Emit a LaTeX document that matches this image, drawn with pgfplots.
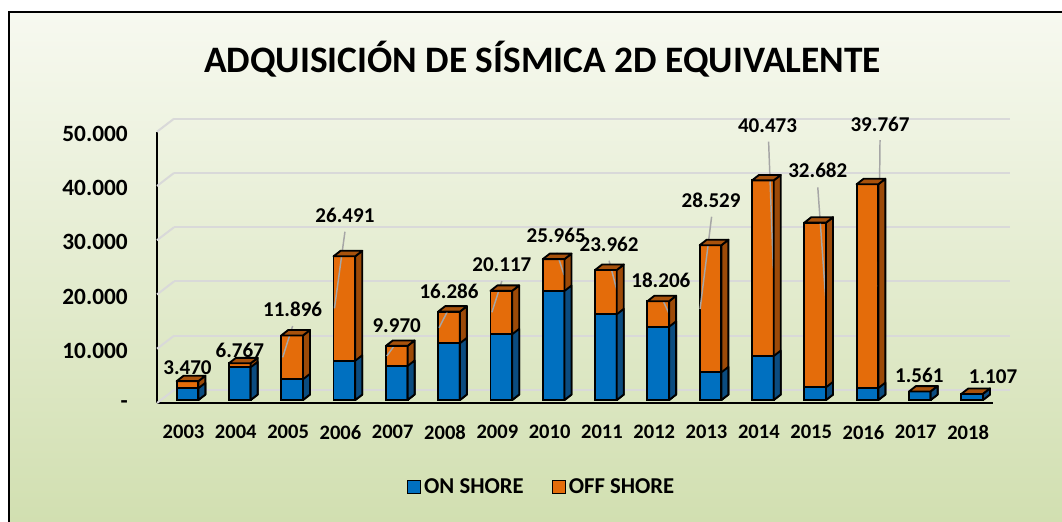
\documentclass[border=0pt]{standalone}
\usepackage{fontspec}
\setmainfont{Carlito}
\usepackage{pgfplots}
\usepackage{pgfplotstable}
\pgfplotsset{compat=1.18}

\definecolor{onfront}{HTML}{0070C0}
\definecolor{onside}{HTML}{0B4C80}
\definecolor{offfront}{HTML}{E46C0A}
\definecolor{offside}{HTML}{9C4A08}
\definecolor{offtop}{HTML}{A8520C}
\definecolor{bgtop}{HTML}{F7F9F0}
\definecolor{bgbot}{HTML}{D1DFB0}
\definecolor{gridc}{HTML}{D9D9D9}
\definecolor{leader}{HTML}{A6A6A6}

\pgfdeclareplotmark{empty}{}

% on / off shore in thousands (totals are the printed labels)
\pgfplotstableread{
idx on off
0 2.160 1.310
1 6.030 0.737
2 3.810 8.086
3 7.240 19.251
4 6.270 3.700
5 10.450 5.836
6 12.110 8.007
7 20.090 5.875
8 15.800 8.162
9 13.500 4.706
10 5.100 23.429
11 8.100 32.373
12 2.340 30.342
13 2.200 37.567
14 1.561 0
15 1.107 0
}\sismica

% pt per thousand (axis height 203.475pt for 50)
\def\yu{4.0695}
\def\hw{8.15}
\def\hwt{16.3}
\def\dx{5.25}
\def\dy{4.1}

\pgfplotsset{
  front/.style={ybar, bar width=16.3pt, bar shift=0pt, draw=black,
    line width=1.4pt, fill=#1, forget plot, yshift=2.25pt},
  offface/.style={only marks, mark=empty, scatter, forget plot, yshift=2.25pt,
    visualization depends on={\thisrow{on}+\thisrow{off} \as \hv},
    scatter/@pre marker code/.code={%
      \pgfmathsetmacro\H{\hv*\yu}%
      \filldraw[fill=offside, draw=black, line width=1.4pt, line join=round]
        (\hw pt,0pt) -- ++(\dx pt,\dy pt) -- ++(0pt,-\H pt) -- (\hw pt,-\H pt) -- cycle;
      \filldraw[fill=offtop, draw=black, line width=1.4pt, line join=round]
        (-\hw pt,0pt) -- (\hw pt,0pt) -- ++(\dx pt,\dy pt) -- ++(-\hwt pt,0pt) -- cycle;
    },
    scatter/@post marker code/.code={}},
  onface/.style={only marks, mark=empty, scatter, forget plot, yshift=2.25pt,
    visualization depends on={\thisrow{on} \as \hv},
    scatter/@pre marker code/.code={%
      \pgfmathsetmacro\H{\hv*\yu}%
      \filldraw[fill=onside, draw=black, line width=1.4pt, line join=round]
        (\hw pt,0pt) -- ++(\dx pt,\dy pt) -- ++(0pt,-\H pt) -- (\hw pt,-\H pt) -- cycle;
    },
    scatter/@post marker code/.code={}},
}
\tikzset{
  lbl/.style={font=\fontsize{15.8}{18}\selectfont\bfseries, inner sep=0pt},
  lead/.style={draw=leader, line width=1.1pt},
}

\begin{document}
\begin{tikzpicture}
\useasboundingbox (0,0) rectangle (796.5pt,-390.75pt);
\clip (0,0) rectangle (796.5pt,-390.75pt);
\fill[white] (0,0) rectangle (796.5pt,-390.75pt);
\shade[top color=bgtop, bottom color=bgbot] (6.75pt,-9pt) rectangle (800pt,-395pt);
\draw[black, line width=1.6pt] (6.75pt,-400pt) -- (6.75pt,-9pt) -- (800pt,-9pt);

\node[font=\fontsize{28}{34}\selectfont\bfseries, anchor=base] at (406.9pt,-54pt)
  {ADQUISICIÓN DE SÍSMICA 2D EQUIVALENTE};

\begin{axis}[
  at={(117.75pt,-302.25pt)}, anchor=south west,
  scale only axis, width=627pt, height=203.475pt,
  xmin=-0.583, xmax=15.40, ymin=0, ymax=50,
  clip=false,
  axis x line*=bottom, axis y line*=left,
  axis line style={line width=1.5pt},
  major tick length=0pt,
  xtick={0,...,15},
  xticklabels={2003,2004,2005,2006,2007,2008,2009,2010,2011,2012,2013,2014,2015,2016,2017,2018},
  xticklabel style={font=\fontsize{15.4}{18}\selectfont\bfseries, inner sep=0pt, anchor=north, yshift=-16.5pt, xshift=-3pt},
  ytick={0,10,20,30,40,50},
  yticklabels={-,10.000,20.000,30.000,40.000,50.000},
  yticklabel style={font=\fontsize{17.5}{20}\selectfont\bfseries, inner sep=0pt, anchor=east, xshift=-21.75pt, yshift=-1.5pt},
  ymajorgrids,
  grid style={draw=gridc, line width=1.5pt, xshift=12.75pt, yshift=9.75pt},
  legend style={draw=none, fill=none, legend columns=2,
    font=\fontsize{17}{20}\selectfont\bfseries,
    at={(0.4605,-0.31)}, anchor=center,
    /tikz/every even column/.append style={column sep=19pt}},
]
\addlegendimage{legend image code/.code={\filldraw[fill=onfront,draw=black,line width=1pt] (0pt,-4.9pt) rectangle (9.8pt,4.9pt);}}
\addlegendentry{ON SHORE}
\addlegendimage{legend image code/.code={\filldraw[fill=offfront,draw=black,line width=1pt] (0pt,-4.9pt) rectangle (9.8pt,4.9pt);}}
\addlegendentry{OFF SHORE}

% side walls of the box
\pgfplotsinvokeforeach{0,10,20,30,40,50}{
  \draw[draw=gridc, line width=1.5pt] (axis cs:-0.583,#1) -- ++(12.75pt,9.75pt);
}

\addplot[front=offfront] table[x=idx, y expr=\thisrow{on}+\thisrow{off}] {\sismica};
\addplot[offface] table[x=idx, y expr=\thisrow{on}+\thisrow{off}] {\sismica};
\addplot[front=onfront] table[x=idx, y=on] {\sismica};
\addplot[onface] table[x=idx, y=on] {\sismica};

% leader lines
\draw[lead] (axis cs:2.01,14.19) -- (axis cs:1.82,8.42);
\draw[lead] (axis cs:3.01,31.57) -- (axis cs:2.81,17.45);
\draw[lead] (axis cs:4.00,11.19) -- (axis cs:3.81,8.66);
\draw[lead] (axis cs:5.00,17.45) -- (axis cs:4.81,13.88);
\draw[lead] (axis cs:6.01,22.48) -- (axis cs:5.82,16.72);
\draw[lead] (axis cs:7.06,27.70) -- (axis cs:7.20,23.59);
\draw[lead] (axis cs:8.06,26.23) -- (axis cs:8.22,20.40);
\draw[lead] (axis cs:9.05,19.72) -- (axis cs:9.21,16.40);
\draw[lead] (axis cs:10.02,34.33) -- (axis cs:9.80,17.32);
\draw[lead] (axis cs:11.11,48.16) -- (axis cs:11.20,24.82);
\draw[lead] (axis cs:12.05,39.75) -- (axis cs:12.21,18.06);
\draw[lead] (axis cs:13.24,48.47) -- (axis cs:13.21,21.43);

% totals
\node[lbl] at (axis cs:0,6.50) {3.470};
\node[lbl] at (axis cs:1.00,9.64) {6.767};
\node[lbl] at (axis cs:2.01,17.27) {11.896};
\node[lbl] at (axis cs:3.01,34.65) {26.491};
\node[lbl] at (axis cs:4.00,14.19) {9.970};
\node[lbl] at (axis cs:5.00,20.51) {16.286};
\node[lbl] at (axis cs:6.01,25.56) {20.117};
\node[lbl] at (axis cs:7.05,30.83) {25.965};
\node[lbl] at (axis cs:8.06,29.25) {23.962};
\node[lbl] at (axis cs:9.05,22.67) {18.206};
\node[lbl] at (axis cs:10.01,37.41) {28.529};
\node[lbl] at (axis cs:11.09,51.10) {40.473};
\node[lbl] at (axis cs:12.05,42.81) {32.682};
\node[lbl] at (axis cs:13.24,51.42) {39.767};
\node[lbl] at (axis cs:13.99,5.16) {1.561};
\node[lbl] at (axis cs:15.40,4.85) {1.107};
\end{axis}
\end{tikzpicture}
\end{document}
